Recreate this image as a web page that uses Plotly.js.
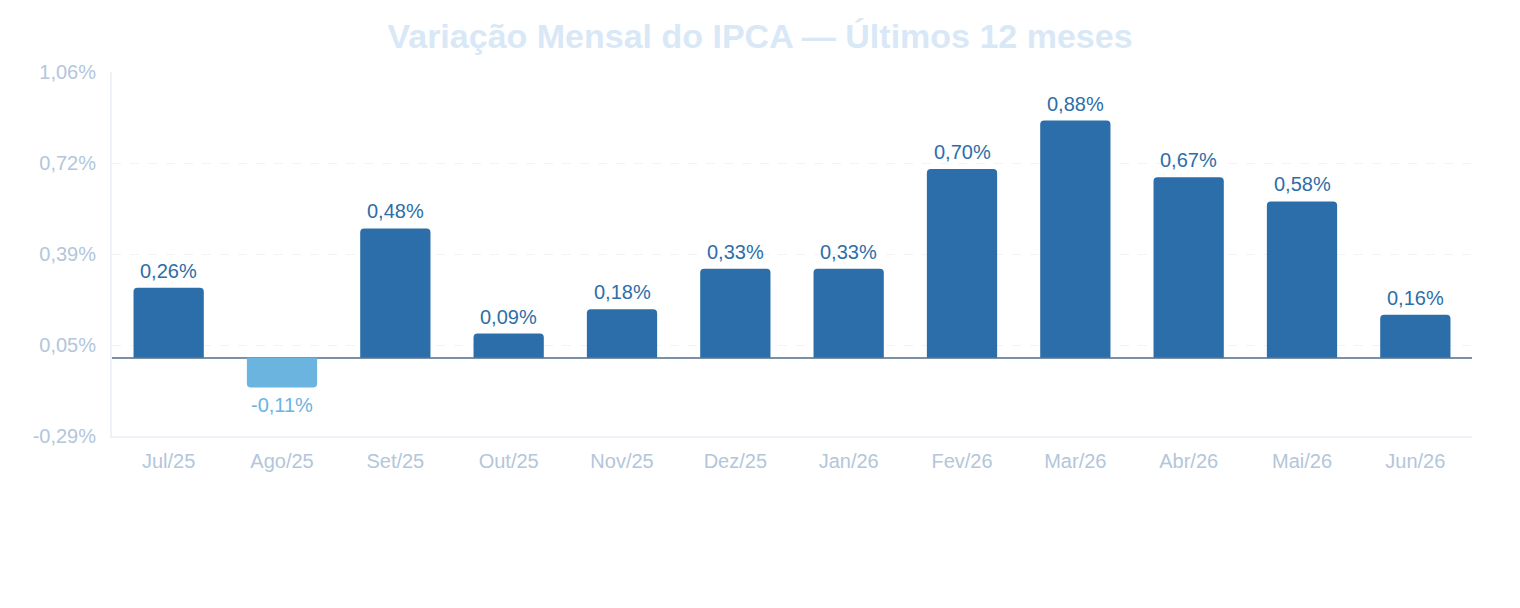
<!DOCTYPE html>
<html>
<head>
<meta charset="utf-8">
<script src="https://cdn.plot.ly/plotly-3.0.1.min.js"></script>
<style>
  html, body { margin: 0; padding: 0; background: #ffffff; }
  #chart { width: 1520px; height: 608px; }
</style>
</head>
<body>
<div id="chart"></div>
<script>
// Monthly IPCA variation (%), last 12 months
const months = ['Jul/25', 'Ago/25', 'Set/25', 'Out/25', 'Nov/25', 'Dez/25',
                'Jan/26', 'Fev/26', 'Mar/26', 'Abr/26', 'Mai/26', 'Jun/26'];
const ipca = [0.26, -0.11, 0.48, 0.09, 0.18, 0.33, 0.33, 0.70, 0.88, 0.67, 0.58, 0.16];

const POS_COLOR = '#2c6ea9';
const NEG_COLOR = '#6bb4e0';
const FONT = 'Liberation Sans, Arial, sans-serif';

const fmt = v => v.toFixed(2).replace('.', ',') + '%';

// Axis range padded around the data, with five evenly spaced ticks
const pad = 0.18;
const yMin = Math.min(...ipca) - pad;
const yMax = Math.max(...ipca) + pad;
const nTicks = 5;
const tickVals = [];
for (let i = 0; i < nTicks; i++) tickVals.push(yMin + (yMax - yMin) * i / (nTicks - 1));
const tickText = tickVals.map(fmt);

const colors = ipca.map(v => v < 0 ? NEG_COLOR : POS_COLOR);

const trace = {
  type: 'bar',
  x: months,
  y: ipca,
  marker: { color: colors, cornerradius: 4 },
  width: 0.62,
  hoverinfo: 'x+y'
};

// Value labels above positive bars and below negative ones
const labels = months.map((m, i) => ({
  x: m,
  y: ipca[i],
  xref: 'x',
  yref: 'y',
  text: fmt(ipca[i]),
  showarrow: false,
  yanchor: ipca[i] < 0 ? 'top' : 'bottom',
  yshift: ipca[i] < 0 ? -5 : 4,
  font: { family: FONT, size: 20, color: colors[i] }
}));

const layout = {
  width: 1520,
  height: 608,
  paper_bgcolor: '#ffffff',
  plot_bgcolor: '#ffffff',
  margin: { l: 112, r: 48, t: 72, b: 172 },
  title: {
    text: '<b>Variação Mensal do IPCA — Últimos 12 meses</b>',
    font: { family: FONT, size: 34, color: '#d9e8f6' },
    x: 0.5, xref: 'container', xanchor: 'center',
    y: 1, yref: 'container', yanchor: 'top', pad: { t: 24 }
  },
  showlegend: false,
  annotations: labels,
  xaxis: {
    type: 'category',
    showgrid: false,
    showline: true,
    linecolor: '#edf2f8',
    linewidth: 2,
    ticks: 'outside',
    ticklen: 6,
    tickcolor: 'rgba(0,0,0,0)',
    tickfont: { family: FONT, size: 20, color: '#b3c6da' },
    zeroline: false
  },
  yaxis: {
    range: [yMin, yMax],
    tickmode: 'array',
    tickvals: tickVals,
    ticktext: tickText,
    showgrid: true,
    gridcolor: '#f0f4f9',
    griddash: 'dash',
    gridwidth: 1,
    showline: true,
    linecolor: '#edf2f8',
    linewidth: 2,
    ticks: 'outside',
    ticklen: 10,
    tickcolor: 'rgba(0,0,0,0)',
    tickfont: { family: FONT, size: 20, color: '#b3c6da' },
    zeroline: true,
    zerolinecolor: '#7d91a6',
    zerolinewidth: 2
  }
};

Plotly.newPlot('chart', [trace], layout, { displayModeBar: false, staticPlot: true });
</script>
</body>
</html>
